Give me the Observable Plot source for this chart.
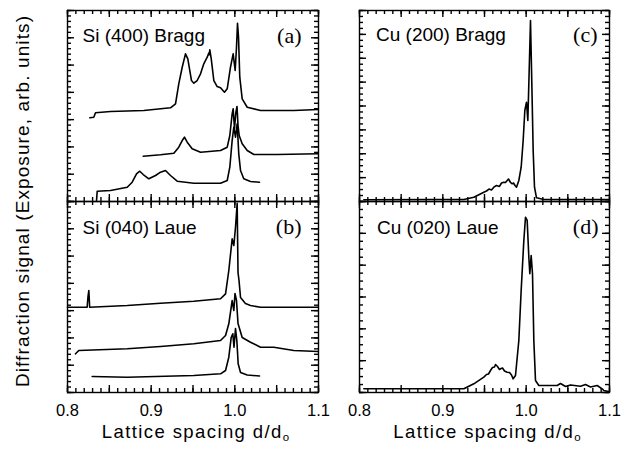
<!DOCTYPE html>
<html><head><meta charset="utf-8">
<script src="https://cdn.jsdelivr.net/npm/d3@7"></script>
<script src="https://cdn.jsdelivr.net/npm/@observablehq/plot@0.6"></script>
<style>
body{margin:0;background:#fff;}
#root{position:relative;width:630px;height:449px;overflow:hidden;background:#fff;font-family:"Liberation Sans",Arial,sans-serif;color:#000;}
.xlabel{position:absolute;font-size:18.5px;line-height:18.5px;letter-spacing:1.4px;white-space:nowrap;transform:translateX(-50%);}
.xlabel sub{font-size:0.62em;vertical-align:-0.3em;line-height:0;letter-spacing:0;}
.ylabel{position:absolute;font-size:19px;line-height:19px;letter-spacing:1.1px;white-space:nowrap;transform:translate(-50%,-50%) rotate(-90deg);}
</style></head><body><div id="root"></div>
<script>
// ---- tick values ----
const xMajor = [0.8, 0.85, 0.9, 0.95, 1.0, 1.05, 1.1];
const xMinor = d3.range(0, 31).map(i => 0.8 + i * 0.01);
const xLabels = [0.8, 0.9, 1.0, 1.1];
const xTitle = "Lattice spacing d/d";
const xTitleSub = "o";
const yTitle = "Diffraction signal (Exposure, arb. units)";

// ---- Panel (a) Si (400) Bragg: three spectra [d/d0, signal] ----
const siBraggTop = [[0.8267,3.067],[0.8314,3.089],[0.8335,3.250],[0.8514,3.298],[0.8912,3.335],[0.9231,3.434],[0.9291,3.580],[0.9330,4.313],[0.9371,4.921],[0.9410,5.412],[0.9438,5.229],[0.9482,4.434],[0.9510,4.335],[0.9550,4.434],[0.9590,4.679],[0.9629,5.046],[0.9670,5.288],[0.9690,5.45],[0.9695,5.38],[0.9701,5.559],[0.9718,5.229],[0.9749,4.434],[0.9789,4.214],[0.9829,4.166],[0.9876,4.005],[0.9909,4.130],[0.9948,4.921],[0.9980,5.412],[1.0004,4.80],[1.0020,5.654],[1.0032,6.534],[1.0044,6.020],[1.0059,4.555],[1.0088,3.763],[1.0148,3.455],[1.0307,3.335],[1.0705,3.335],[1.0995,3.371]];
const siBraggMid = [[0.8905,1.660],[0.9112,1.711],[0.9271,1.770],[0.9330,1.990],[0.9371,2.235],[0.9398,2.356],[0.9431,2.173],[0.9490,1.931],[0.9590,1.807],[0.9829,1.869],[0.9909,1.990],[0.9940,2.418],[0.9968,3.214],[0.9980,3.397],[0.9996,2.675],[1.0012,3.261],[1.0026,3.481],[1.0038,2.785],[1.0052,2.418],[1.0088,2.114],[1.0148,1.869],[1.0227,1.722],[1.0506,1.722],[1.0995,1.748]];
const siBraggLow = [[0.8347,0.037],[0.8355,0.377],[0.8514,0.403],[0.8714,0.524],[0.8773,0.707],[0.8825,1.015],[0.8864,1.110],[0.8905,0.989],[0.8972,0.832],[0.9052,0.953],[0.9112,1.074],[0.9171,1.136],[0.9231,0.953],[0.9311,0.744],[0.9510,0.671],[0.9829,0.671],[0.9909,0.770],[0.9940,1.257],[0.9968,2.235],[0.9988,2.723],[1.0008,2.356],[1.0028,2.847],[1.0047,1.748],[1.0068,1.136],[1.0107,0.832],[1.0187,0.733],[1.0295,0.707]];

// ---- Panel (b) Si (040) Laue ----
const siLaueTop = [[0.8000,3.126],[0.8235,3.126],[0.8245,3.518],[0.8255,3.738],[0.8265,3.126],[0.8714,3.188],[0.9112,3.272],[0.9510,3.346],[0.9829,3.434],[0.9889,3.617],[0.9928,4.471],[0.9968,5.632],[0.9988,5.387],[1.0008,6.057],[1.0028,6.93],[1.0038,4.397],[1.0050,4.104],[1.0068,3.481],[1.0127,3.261],[1.0187,3.188],[1.0307,3.126],[1.0995,3.126]];
const siLaueMid = [[0.8096,1.418],[0.8135,1.539],[0.8714,1.601],[0.9112,1.686],[0.9510,1.785],[0.9829,1.905],[0.9889,2.089],[0.9928,2.517],[0.9968,3.371],[0.9988,3.005],[1.0002,3.628],[1.0020,3.371],[1.0038,2.528],[1.0088,2.015],[1.0187,1.843],[1.0307,1.660],[1.0466,1.660],[1.0705,1.539],[1.0995,1.502]];
const siLaueLow = [[0.8295,0.586],[0.8714,0.561],[0.9510,0.623],[0.9829,0.685],[0.9889,0.806],[0.9928,1.294],[0.9957,2.026],[0.9976,2.151],[0.9990,1.660],[1.0008,2.345],[1.0024,1.905],[1.0040,1.052],[1.0068,0.733],[1.0148,0.641],[1.0295,0.605]];

// ---- Panel (c) Cu (200) Bragg ----
const cuBragg = [[0.8052,0.071],[0.8852,0.084],[0.9252,0.084],[0.9372,0.180],[0.9492,0.390],[0.9524,0.44],[0.9554,0.52],[0.9584,0.48],[0.9612,0.599],[0.9644,0.67],[0.9680,0.63],[0.9704,0.775],[0.9732,0.808],[0.9752,0.796],[0.9772,0.880],[0.9788,0.942],[0.9812,0.796],[0.9832,0.741],[0.9848,0.775],[0.9866,0.67],[0.9884,0.599],[0.9912,0.880],[0.9940,1.437],[0.9964,2.555],[0.9984,3.812],[1.0004,4.159],[1.0020,3.393],[1.0032,4.930],[1.0052,7.581],[1.0068,4.930],[1.0084,2.136],[1.0100,0.599],[1.0124,0.155],[1.0212,0.084],[1.0995,0.084]];

// ---- Panel (d) Cu (020) Laue ----
const cuLaue = [[0.8052,0.116],[0.9252,0.116],[0.9372,0.273],[0.9492,0.481],[0.9524,0.565],[0.9548,0.581],[0.9572,0.691],[0.9596,0.785],[0.9620,0.800],[0.9632,0.880],[0.9656,0.817],[0.9680,0.723],[0.9692,0.745],[0.9716,0.770],[0.9740,0.675],[0.9772,0.638],[0.9800,0.628],[0.9824,0.550],[0.9844,0.430],[0.9872,0.534],[0.9912,1.634],[0.9940,3.205],[0.9972,4.775],[0.9992,5.507],[1.0012,5.404],[1.0032,4.251],[1.0044,3.729],[1.0060,4.304],[1.0076,3.729],[1.0092,1.634],[1.0112,0.377],[1.0152,0.220],[1.0372,0.220],[1.0412,0.283],[1.0472,0.188],[1.0532,0.236],[1.0652,0.198],[1.0712,0.251],[1.0772,0.173],[1.0852,0.220],[1.0912,0.116],[1.0932,0.063],[1.0988,0.03]];

const panels = [
  {series:[siBraggTop, siBraggMid, siBraggLow], yMax:7, yMinor:0.2, label:"Si (400) Bragg", letter:"(a)", left:67, top:10, w:251, h:191, showX:false, ldx:15, ldy:31.5, rdx:-17},
  {series:[siLaueTop, siLaueMid, siLaueLow], yMax:7, yMinor:0.2, label:"Si (040) Laue", letter:"(b)", left:67, top:201, w:251, h:191, showX:true, ldx:15, ldy:32, rdx:-17},
  {series:[cuBragg], yMax:8, yMinor:0.25, label:"Cu (200) Bragg", letter:"(c)", left:359, top:10, w:250, h:191, showX:false, ldx:16.5, ldy:30.5, rdx:-12},
  {series:[cuLaue], yMax:6, yMinor:0.25, label:"Cu (020) Laue", letter:"(d)", left:359, top:201, w:250, h:191, showX:true, ldx:17.5, ldy:32, rdx:-11}
];

const root = document.getElementById("root");
const MINOR = 4, MAJOR = 7;

for (const p of panels) {
  const mL = p.showX ? 20 : 2, mR = p.showX ? 20 : 2, mT = 2, mB = p.showX ? 34 : 2;
  const data = p.series.flatMap((s, k) => s.map(([d, v]) => ({d, v, k})));
  const yMajor = d3.range(0, p.yMax + 1e-9, 1);
  const yMinor = d3.range(0, Math.round(p.yMax / p.yMinor) + 1).map(i => i * p.yMinor);
  const tk = {stroke: "black", strokeWidth: 1.4};
  // inward ticks on all four sides: short rules inset from the frame
  const marks = [
    Plot.ruleX(xMinor, {...tk, x: d => d, insetTop: p.h - MINOR}),
    Plot.ruleX(xMajor, {...tk, x: d => d, insetTop: p.h - MAJOR}),
    Plot.ruleX(xMinor, {...tk, x: d => d, insetBottom: p.h - MINOR}),
    Plot.ruleX(xMajor, {...tk, x: d => d, insetBottom: p.h - MAJOR}),
    Plot.ruleY(yMinor, {...tk, y: d => d, insetRight: p.w - MINOR}),
    Plot.ruleY(yMajor, {...tk, y: d => d, insetRight: p.w - MAJOR}),
    Plot.ruleY(yMinor, {...tk, y: d => d, insetLeft: p.w - MINOR}),
    Plot.ruleY(yMajor, {...tk, y: d => d, insetLeft: p.w - MAJOR}),
    Plot.line(data, {x: "d", y: "v", z: "k", stroke: "black", strokeWidth: 1.6, strokeLinejoin: "round"}),
    Plot.frame({stroke: "black", strokeWidth: 1.4}),
    Plot.text([p.label], {frameAnchor: "top-left", textAnchor: "start", lineAnchor: "bottom", dx: p.ldx, dy: p.ldy, fontSize: 19, fontFamily: "Liberation Sans, Arial, sans-serif", fill: "black"}),
    Plot.text([p.letter], {frameAnchor: "top-right", textAnchor: "end", lineAnchor: "bottom", dx: p.rdx, dy: p.ldy + 0.5, fontSize: 22, fontFamily: "Liberation Serif, Times New Roman, serif", fill: "black"})
  ];
  if (p.showX) {
    marks.push(Plot.axisX({ticks: xLabels, anchor: "bottom", tickSize: 0, tickPadding: 12, tickFormat: d => d.toFixed(1), fontSize: 16.5, fill: "black"}));
  }
  const svg = Plot.plot({
    width: p.w + mL + mR, height: p.h + mT + mB,
    marginLeft: mL, marginRight: mR, marginTop: mT, marginBottom: mB,
    x: {domain: [0.8, 1.1], axis: null, label: null},
    y: {domain: [0, p.yMax], axis: null, label: null},
    style: {background: "transparent", overflow: "visible", fontFamily: "Liberation Sans, Arial, sans-serif", color: "black"},
    marks
  });
  svg.style.position = "absolute";
  svg.style.left = (p.left - mL) + "px";
  svg.style.top = (p.top - mT) + "px";
  svg.style.maxWidth = "none";
  root.append(svg);

  if (p.showX) {
    const lab = document.createElement("div");
    lab.className = "xlabel";
    lab.innerHTML = xTitle + "<sub>" + xTitleSub + "</sub>";
    lab.style.left = (p.left + p.w / 2 + 3) + "px";
    lab.style.top = "423px";
    root.append(lab);
  }
}

const yl = document.createElement("div");
yl.className = "ylabel";
yl.textContent = yTitle;
yl.style.left = "22px";
yl.style.top = "201px";
root.append(yl);
</script>
</body></html>
